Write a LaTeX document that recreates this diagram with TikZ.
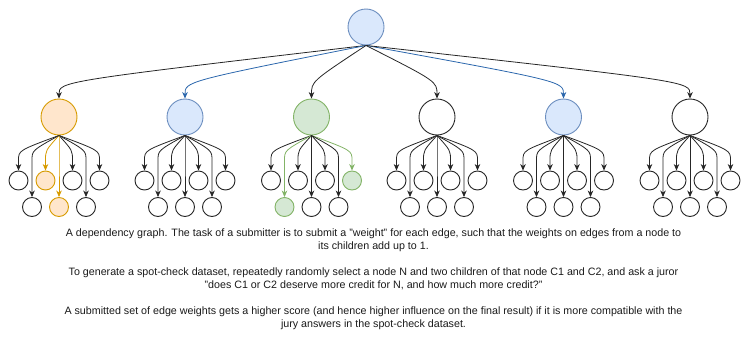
\documentclass[tikz,border=0pt]{standalone}
\usepackage{fontspec}
\setmainfont{Liberation Sans}
\usetikzlibrary{arrows.meta,calc}
\definecolor{orS}{HTML}{D79B00}
\definecolor{orF}{HTML}{FFE6CC}
\definecolor{blS}{HTML}{6C8EBF}
\definecolor{blF}{HTML}{DAE8FC}
\definecolor{grS}{HTML}{82B366}
\definecolor{grF}{HTML}{D5E8D4}
\definecolor{blE}{HTML}{2A66AC}
\definecolor{txt}{HTML}{1A1A1A}
\tikzset{
  big/.style={circle,draw=black!85,line width=0.9pt,minimum size=36pt,inner sep=0pt},
  small/.style={circle,draw=black!85,line width=0.9pt,minimum size=19pt,inner sep=0pt},
  orn/.style={draw=orS,fill=orF},
  bln/.style={draw=blS,fill=blF},
  grn/.style={draw=grS,fill=grF},
  edge/.style={draw=black!85,line width=0.8pt,-{Stealth[length=6.5pt,width=5.5pt,inset=2pt]}},
  oredge/.style={draw=orS},
  gredge/.style={draw=grS},
  bledge/.style={draw=blE},
  % highlighted children
  kid at2/.style={orn}, kid ab2/.style={orn},
  kid ct4/.style={grn}, kid cb1/.style={grn},
  ked at2/.style={oredge}, ked ab2/.style={oredge},
  ked ct4/.style={gredge}, ked cb1/.style={gredge},
  ked n2/.style={bledge}, ked n5/.style={bledge},
}
\newcommand{\kidedge}[2]{%
  \draw[edge,ked #2/.try] (#1.south) .. controls ($(#1.south -| #2)+(0,15)$) .. ($(#1.south -| #2)+(0,25)$) -- (#2.north);}
\newcommand{\family}[2]{%
  \node[small,kid #1t1/.try] (#1t1) at (#2-40.5,180.5) {};
  \node[small,kid #1t2/.try] (#1t2) at (#2-13.5,180.5) {};
  \node[small,kid #1t3/.try] (#1t3) at (#2+13.5,180.5) {};
  \node[small,kid #1t4/.try] (#1t4) at (#2+40.5,180.5) {};
  \node[small,kid #1b1/.try] (#1b1) at (#2-27,207) {};
  \node[small,kid #1b2/.try] (#1b2) at (#2,207) {};
  \node[small,kid #1b3/.try] (#1b3) at (#2+27,207) {};
}
\begin{document}
\begin{tikzpicture}[x=1pt,y=-1pt]
\useasboundingbox (0,0) rectangle (749,343);
% root
\node[big,bln] (r) at (366,27) {};
% level 1
\node[big,orn] (n1) at (59,117) {};
\node[big,bln] (n2) at (185,117) {};
\node[big,grn] (n3) at (311.5,117) {};
\node[big] (n4) at (437,117) {};
\node[big,bln] (n5) at (563.5,117) {};
\node[big] (n6) at (690,117) {};
\foreach \n in {n1,n2,n3,n4,n5,n6}{
  \draw[edge,ked \n/.try] (r.south) .. controls ($(r.south -| \n)+(0,36)$) .. (\n.north);
}
% children
\family{a}{59}
\family{b}{185}
\family{c}{311.5}
\family{d}{437}
\family{e}{563.5}
\family{f}{690}
\foreach \p/\q in {a/n1,b/n2,c/n3,d/n4,e/n5,f/n6}{
  \foreach \k in {t1,t2,t3,t4,b1,b2,b3}{
    \kidedge{\q}{\p\k}
  }
}
% caption
\node[align=center,font=\fontsize{10.7}{13}\selectfont,text=txt,anchor=north,inner sep=0pt] (cap) at (373.5,228.5) {%
A dependency graph. The task of a submitter is to submit a "weight" for each edge, such that the weights on edges from a node to\\
its children add up to 1.\\[13pt]
To generate a spot-check dataset, repeatedly randomly select a node N and two children of that node C1 and C2, and ask a juror\\
"does C1 or C2 deserve more credit for N, and how much more credit?"\\[13pt]
A submitted set of edge weights gets a higher score (and hence higher influence on the final result) if it is more compatible with the\\
jury answers in the spot-check dataset.};
\end{tikzpicture}
\end{document}
